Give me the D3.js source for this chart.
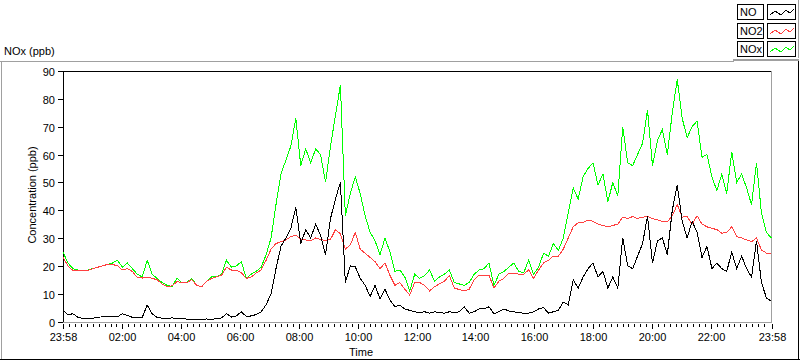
<!DOCTYPE html>
<html><head><meta charset="utf-8">
<script src="https://cdn.jsdelivr.net/npm/d3@7"></script>
<style>
body{margin:0;background:#fff}
svg{display:block;background:#fff}
text{font-family:"Liberation Sans",Arial,sans-serif;font-size:11px;fill:#000}
</style>
</head><body>
<svg id="c" width="800" height="361"></svg>
<script>
// ---- data ----
const seriesNames = ["NO", "NO2", "NOx"];
const seriesColors = ["#000000", "#ff4040", "#00ff00"];
const sampleStartMin = -1;      // 23:58 previous day
const sampleStepMin = 10.1;     // minutes between samples
const noxValues = [
 25,21,19,18.5,18.5,18.5,19,19.5,20,20.5,
 21,22,19.5,21,19,17,16,22,17,15.5,
 14,13,12.5,15.5,14,14,15.5,13,12.5,14.5,
 16,16,17,22,19.5,20,21.5,15.5,17,18,
 19.5,24,30,42,53,58,63,73,56,62,
 57,62,60,50,63,74,85,38,46,52,
 46,38,32,29,24,30,25,18,18.5,16,
 11,17,15.5,16.5,18.5,14.5,16,17,18.5,14,
 13.5,13,14,17,18.5,19,21,13,17,18,
 19.5,21,18,17.5,22,17,19.5,24.5,23.5,28,
 25.5,30,39,48,44,52,55,57,49,53,
 43,50,45,70,57,56,60,64,76,56,
 65,69,60,75,87,73,66,70,72,59,
 60,52,47,53,46,61,50,53,48,42,
 57,39,32,30
];
const no2Values = [
 23,20,18.3,18.3,18.3,18.3,19,19.5,20,20.5,
 20.5,20,18.5,19,18,15.8,15.6,16,15.5,15,
 13.5,12.5,12.8,14.3,14,14,15,13,12.5,14.5,
 15.5,16,16.6,19.5,18.5,18.5,17.5,15.5,16,17.4,
 18.5,22,26,28,28.7,29.3,30.5,31,29.5,29.3,
 29,30,29.5,29,29.5,33,31.5,26,27.5,32,
 26,24.5,23,21.5,19,21,16.6,13,14,11.6,
 9.5,14,14,13,11,12.5,13.5,14.5,16.5,12,
 11.5,11,11.6,15,16.6,16.6,16.6,12,14.5,15.5,
 17.4,17.4,17,17,18.5,15.5,18.5,21,22,23.5,
 23.5,26,30,34,35.5,35.5,36.5,36,35,34.5,
 34,34.5,35,37.5,37,37.7,37,37.5,37.7,37,
 36.5,36,35.8,38,42,37.5,37.7,35,38,35,
 34,33.5,33,31.7,32,34,30.5,30,29.3,28.7,
 30,25.7,24.6,24.6
];
const noValues = [
 4,2.4,2.8,1.5,1.1,1.1,1.2,1.5,1.7,1.7,
 1.8,1.7,2.8,2.2,1.5,1.5,1.5,5.9,2.8,1.5,
 1.2,1,1.3,1,1.2,0.8,0.9,0.8,0.8,0.9,
 0.8,1,1.3,2.8,1.6,2,3.5,1.8,2,2.5,
 3.5,6,10,19,27,30,33.5,41,28,33,
 30,35,31,24,37,44,50,14,20,19.7,
 15.5,13,9,13,8,11.6,7.7,5.3,5.9,4.5,
 4,3.5,3.2,3.5,3,3.5,3.2,3,3.5,3.2,
 3.5,5.3,3,3.5,4.5,4.5,5.3,2.8,3.5,4.5,
 3.8,3.5,3.2,3,3,3.5,4.5,5,3,3.5,
 4,7,6,15,12,16,19,21,16,18,
 12,16,12,30,20,19,23.5,28,38,21,
 29,30,24,40,49,36,30,36,32,23,
 27,19,21,19,18,25,19,23.5,19,16,
 29,14,8.5,7.2
];
const yTicks = [0,10,20,30,40,50,60,70,80,90];
const xMajorTicks = [120,240,360,480,600,720,840,960,1080,1200,1320];
const xMajorLabels = ["02:00","04:00","06:00","08:00","10:00","12:00","14:00","16:00","18:00","20:00","22:00"];
const xDomain = [-1, 1444];
const xEndLabel = "23:58";
const xMinorStep = 12;

// ---- layout ----
const L = 63, R = 771.7, T = 71, B = 321.5;
const svg = d3.select("#c");
const x = d3.scaleLinear().domain(xDomain).range([L, R]);
const y = d3.scaleLinear().domain([0, 90]).range([B, T]);

// outer frame
const fr = svg.append("g").attr("shape-rendering","crispEdges");
fr.append("line").attr("x1",0).attr("x2",734).attr("y1",61.5).attr("y2",61.5).attr("stroke","#a0a0a0");
fr.append("line").attr("x1",733).attr("x2",799).attr("y1",59.5).attr("y2",59.5).attr("stroke","#a0a0a0").attr("stroke-width",2);
fr.append("line").attr("x1",1.5).attr("x2",1.5).attr("y1",61).attr("y2",360).attr("stroke","#a0a0a0");
fr.append("line").attr("x1",0).attr("x2",800).attr("y1",359.5).attr("y2",359.5).attr("stroke","#000");
fr.append("line").attr("x1",798.5).attr("x2",798.5).attr("y1",61).attr("y2",360).attr("stroke","#000");
fr.append("line").attr("x1",798.5).attr("x2",798.5).attr("y1",0).attr("y2",58).attr("stroke","#a0a0a0");

// plot frame
const pf = svg.append("g").attr("shape-rendering","crispEdges");
pf.append("line").attr("x1",L).attr("x2",R).attr("y1",T+0.5).attr("y2",T+0.5).attr("stroke","#000");
pf.append("line").attr("x1",L+0.5).attr("x2",L+0.5).attr("y1",T).attr("y2",B+1).attr("stroke","#000");
pf.append("line").attr("x1",R).attr("x2",R).attr("y1",T).attr("y2",B+1).attr("stroke","#a0a0a0");
pf.append("line").attr("x1",L).attr("x2",R).attr("y1",B+1).attr("y2",B+1).attr("stroke","#a0a0a0");

// y axis
const ya = svg.append("g").attr("shape-rendering","crispEdges");
yTicks.forEach(v => {
  const py = Math.round(y(v)) + 0.5;
  ya.append("line").attr("x1",58).attr("x2",63).attr("y1",py).attr("y2",py).attr("stroke","#000");
  ya.append("text").attr("x",55).attr("y",py+4).attr("text-anchor","end").text(v);
});

// x axis ticks
const xa = svg.append("g").attr("shape-rendering","crispEdges");
for (let m = xMinorStep; x(m) < R - 4; m += xMinorStep) {
  if (m % 120 === 0) continue;
  const px = Math.round(x(m)) + 0.5;
  xa.append("line").attr("x1",px).attr("x2",px).attr("y1",B+2).attr("y2",B+5).attr("stroke","#000");
}
const majors = [{t:xDomain[0], l:xEndLabel}]
  .concat(xMajorTicks.map((t,i)=>({t, l:xMajorLabels[i]})))
  .concat([{t:xDomain[1], l:xEndLabel}]);
majors.forEach(d => {
  const px = Math.round(x(d.t)) + 0.5;
  xa.append("line").attr("x1",px).attr("x2",px).attr("y1",B+2).attr("y2",B+7).attr("stroke","#000");
  xa.append("text").attr("x",px).attr("y",B+19).attr("text-anchor","middle").text(d.l);
});

// titles
svg.append("text").attr("x",361).attr("y",356).attr("text-anchor","middle").text("Time");
svg.append("text").attr("transform","translate(36,195) rotate(-90)").attr("text-anchor","middle").text("Concentration (ppb)");
svg.append("text").attr("x",4).attr("y",55).text("NOx (ppb)");

// lines
const line = d3.line()
  .x((d,i) => x(sampleStartMin + i*sampleStepMin))
  .y(d => y(d));
const drawOrder = [[noxValues,"#00ff00"],[no2Values,"#ff4040"],[noValues,"#000000"]];
const lg = svg.append("g");
drawOrder.forEach(([vals,col]) => {
  lg.append("path").datum(vals).attr("d", line).attr("fill","none")
    .attr("stroke", col).attr("stroke-width",1).attr("shape-rendering","crispEdges");
});

// legend
const leg = svg.append("g");
seriesNames.forEach((name, k) => {
  const y0 = 4 + k*18.5;
  leg.append("rect").attr("x",737.5).attr("y",Math.round(y0)+0.5).attr("width",26).attr("height",15)
    .attr("fill","#fff").attr("stroke","#000").attr("shape-rendering","crispEdges");
  leg.append("text").attr("x",740).attr("y",Math.round(y0)+12).text(name);
  leg.append("rect").attr("x",767.5).attr("y",Math.round(y0)+0.5).attr("width",28).attr("height",15)
    .attr("fill","#fff").attr("stroke","#000").attr("shape-rendering","crispEdges");
  const yy = Math.round(y0);
  const pts = [[770,yy+11],[775,yy+7],[781,yy+11],[786,yy+6],[790,yy+9],[794,yy+5]];
  leg.append("polyline").attr("points", pts.map(p=>p.join(",")).join(" "))
    .attr("fill","none").attr("stroke", seriesColors[k]).attr("stroke-width",1).attr("shape-rendering","crispEdges");
});
</script>
</body></html>
